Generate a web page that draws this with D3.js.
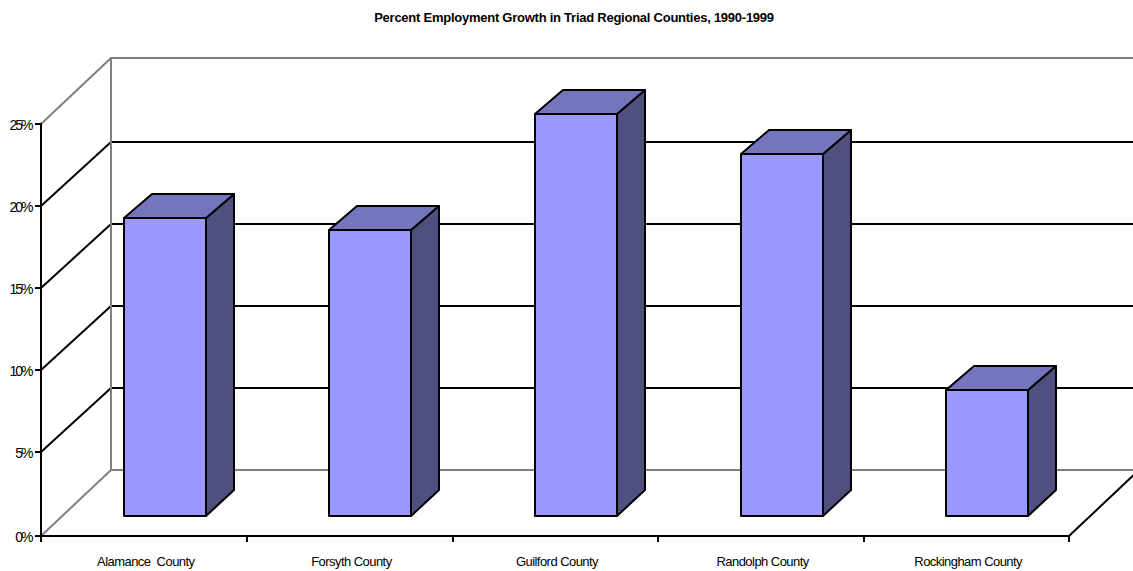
<!DOCTYPE html>
<html><head><meta charset="utf-8">
<style>html,body{margin:0;padding:0;background:#fff}svg{display:block}text{font-family:"Liberation Sans",Arial,sans-serif;fill:#000}</style>
<script src="https://cdn.jsdelivr.net/npm/d3@7"></script></head><body>
<script>
const categories = ["Alamance  County","Forsyth County","Guilford County","Randolph County","Rockingham County"];
const growth = [18.1,17.35,24.4,21.95,7.65];
const yTicks = [0,5,10,15,20,25];
const chartTitle = "Percent Employment Growth in Triad Regional Counties, 1990-1999";
(function(){
const W=1133,H=571;
const svg=d3.select("body").append("svg").attr("width",W).attr("height",H);
const mLeft=41,mRight=1069,mBottom=536;
const wallDx=70,barDx=28,barDy=-24,barBaseDy=-26,barBack=20;
const y=d3.scaleLinear().domain([0,5,20,25]).range([mBottom,452,206,124]);
const yBack=d3.scaleLinear().domain([0,5,20,25]).range([470,388,142,58]);
const x=d3.scaleBand().domain(categories).range([mLeft,mRight]);
const grey="#808080";
const edge=d=>(d===0||d===25)?grey:"#000";
// walls
const g=svg.append("g").attr("fill","none");
g.selectAll("line.depth").data(yTicks).join("line").attr("class","depth")
 .attr("x1",mLeft).attr("y1",d=>y(d)).attr("x2",mLeft+wallDx).attr("y2",d=>yBack(d))
 .attr("stroke",edge).attr("stroke-width",2);
g.selectAll("line.back").data(yTicks).join("line").attr("class","back")
 .attr("x1",mLeft+wallDx).attr("y1",d=>yBack(d)).attr("x2",W).attr("y2",d=>yBack(d))
 .attr("stroke",edge).attr("stroke-width",2);
g.append("line").attr("x1",mLeft+wallDx).attr("x2",mLeft+wallDx).attr("y1",yBack(0)+1).attr("y2",yBack(25)-1).attr("stroke",grey).attr("stroke-width",2);
g.append("line").attr("x1",mRight).attr("y1",mBottom).attr("x2",mRight+wallDx).attr("y2",yBack(0)).attr("stroke","#000").attr("stroke-width",2);
// axes
const ax=svg.append("g").attr("stroke","#000").attr("stroke-width",2);
ax.append("line").attr("x1",mLeft).attr("x2",mLeft).attr("y1",y(25)-1).attr("y2",mBottom+6);
ax.append("line").attr("x1",mLeft-1).attr("x2",mRight+1).attr("y1",mBottom).attr("y2",mBottom);
ax.selectAll("line.yt").data(yTicks).join("line").attr("class","yt").attr("x1",mLeft-6).attr("x2",mLeft).attr("y1",d=>y(d)).attr("y2",d=>y(d));
ax.selectAll("line.xt").data(categories.map(c=>x(c)).concat([mRight])).join("line").attr("class","xt").attr("x1",d=>Math.round(d+0.3)).attr("x2",d=>Math.round(d+0.3)).attr("y1",mBottom).attr("y2",mBottom+6);
// bars
const bw=Math.round(x.bandwidth()*0.4);
const base=mBottom-barBack;
const bx=c=>Math.round(x(c)+x.bandwidth()/2+21-bw/2);
const bars=svg.append("g").attr("stroke","#000").attr("stroke-width",2).attr("stroke-linejoin","round");
const val=d3.scaleLinear().domain([0,25]).range([base,base-412]);
categories.forEach((c,i)=>{
  const x0=bx(c),x1=x0+bw,yt=Math.round(val(growth[i]));
  bars.append("path").attr("fill","#4f4f80").attr("d",d3.line()([[x1,yt],[x1+barDx,yt+barDy],[x1+barDx,base+barBaseDy],[x1,base]])+"Z");
  bars.append("path").attr("fill","#7575bd").attr("d",d3.line()([[x0,yt],[x0+barDx,yt+barDy],[x1+barDx,yt+barDy],[x1,yt]])+"Z");
  bars.append("rect").attr("fill","#9999ff").attr("x",x0).attr("y",yt).attr("width",bw).attr("height",base-yt);
});
// text
const fmt=d=>d+"%";
svg.selectAll("text.yl").data(yTicks).join("text").attr("class","yl").attr("x",31.5).attr("y",d=>y(d)+6)
 .attr("text-anchor","end").attr("font-size",14).attr("letter-spacing",-2).text(fmt);
svg.selectAll("text.xl").data(categories).join("text").attr("class","xl").attr("x",c=>x(c)+x.bandwidth()/2+2).attr("y",566)
 .attr("text-anchor","middle").attr("font-size",13).attr("letter-spacing",-0.55).style("white-space","pre").text(c=>c);
svg.append("text").attr("x",574).attr("y",22).attr("text-anchor","middle").attr("font-size",13).attr("font-weight","bold").attr("letter-spacing",-0.25).text(chartTitle);
})();
</script></body></html>
